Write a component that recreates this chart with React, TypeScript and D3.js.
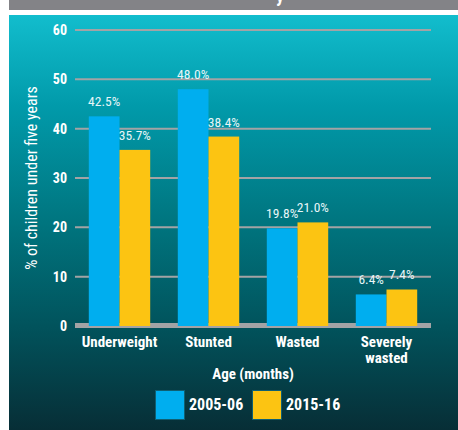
import React from 'react';
import * as d3 from 'd3';

const categories = ['Underweight', 'Stunted', 'Wasted', 'Severely wasted'];
const categoryLines = [['Underweight'], ['Stunted'], ['Wasted'], ['Severely', 'wasted']];
const seriesNames = ['2005-06', '2015-16'];
const values2005 = [42.5, 48.0, 19.8, 6.4];
const values2015 = [35.7, 38.4, 21.0, 7.4];
const yTicks = [0, 10, 20, 30, 40, 50, 60];

const W = 458;
const H = 430;
const FONT = "'Roboto Condensed', 'DejaVu Sans Condensed', sans-serif";
const colors = ['#00aeef', '#fcc412'];

const App: React.FC = () => {
  // Scales
  const y = d3.scaleLinear().domain([0, 60]).range([326, 30]);
  const x0 = d3.scaleBand<string>()
    .domain(categories)
    .range([75, 431])
    .paddingInner(0.31)
    .paddingOuter(0.155);
  const x1 = d3.scaleBand<string>()
    .domain(seriesNames)
    .range([0, x0.bandwidth()]);

  const rows = categories.map((c, i) => ({
    category: c,
    lines: categoryLines[i],
    values: [values2005[i], values2015[i]],
  }));

  return (
    <svg width={W} height={H} style={{ position: 'absolute', left: 0, top: 0 }}
      fontFamily={FONT} fontStretch="condensed">
      <defs>
        <linearGradient id="panelBg" x1="0" y1="0" x2="0" y2="1">
          <stop offset="0" stopColor="#12bdcd" />
          <stop offset="0.22" stopColor="#019aaa" />
          <stop offset="0.5" stopColor="#00757f" />
          <stop offset="0.75" stopColor="#01535c" />
          <stop offset="1" stopColor="#072e36" />
        </linearGradient>
      </defs>
      <rect x={0} y={0} width={W} height={H} fill="#fff" />
      {/* title strip, cut off at the top */}
      <rect x={9} y={0} width={W - 9} height={10} fill="#838387" />
      <text x={276} y={2} fill="#fff" fontSize={18} fontWeight="bold">y</text>
      <rect x={9} y={15} width={W - 9} height={H - 15} fill="url(#panelBg)" />

      {/* gridlines */}
      {yTicks.filter(t => t > 0).map(t => (
        <line key={t} x1={75} x2={431} y1={y(t)} y2={y(t)} stroke="#a3a3a5" strokeWidth={2} />
      ))}
      <rect x={75} y={y(0) - 3} width={356} height={5} fill="#a3a3a5" />

      {/* y tick labels */}
      {yTicks.map(t => (
        <text key={t} x={67} y={y(t)} dy="0.36em" textAnchor="end" fill="#fff"
          fontSize={14} fontWeight="bold">{t}</text>
      ))}

      {/* y axis title */}
      <text transform={`translate(37,${y(30)}) rotate(-90)`} textAnchor="middle" fill="#fff"
        fontSize={16}>% of children under five years</text>

      {/* bars */}
      {rows.map(r => (
        <g key={r.category} transform={`translate(${x0(r.category)},0)`}>
          {r.values.map((v, j) => (
            <g key={seriesNames[j]}>
              <rect x={x1(seriesNames[j])} y={y(v)} width={x1.bandwidth()} height={y(0) - y(v)}
                fill={colors[j]} />
              <text x={(x1(seriesNames[j]) as number) + x1.bandwidth() / 2} y={y(v) - 10}
                textAnchor="middle" fill="#e8f6f8" fontSize={13.5}>{v.toFixed(1)}%</text>
            </g>
          ))}
          {r.lines.map((l, k) => (
            <text key={l} x={x0.bandwidth() / 2} y={347 + k * 16} textAnchor="middle" fill="#fff"
              fontSize={15} fontWeight="bold">{l}</text>
          ))}
        </g>
      ))}

      {/* x axis title */}
      <text x={253} y={379} textAnchor="middle" fill="#fff" fontSize={15} fontWeight="bold">Age (months)</text>

      {/* legend */}
      {seriesNames.map((s, j) => (
        <g key={s} transform={`translate(${155 + j * 97},390)`}>
          <rect x={0.5} y={0.5} width={29} height={29} fill={colors[j]} stroke="#0f5f72" strokeWidth={1} />
          <text x={34} y={20} fill="#fff" fontSize={16} fontWeight="bold">{s}</text>
        </g>
      ))}
    </svg>
  );
};

export default App;
